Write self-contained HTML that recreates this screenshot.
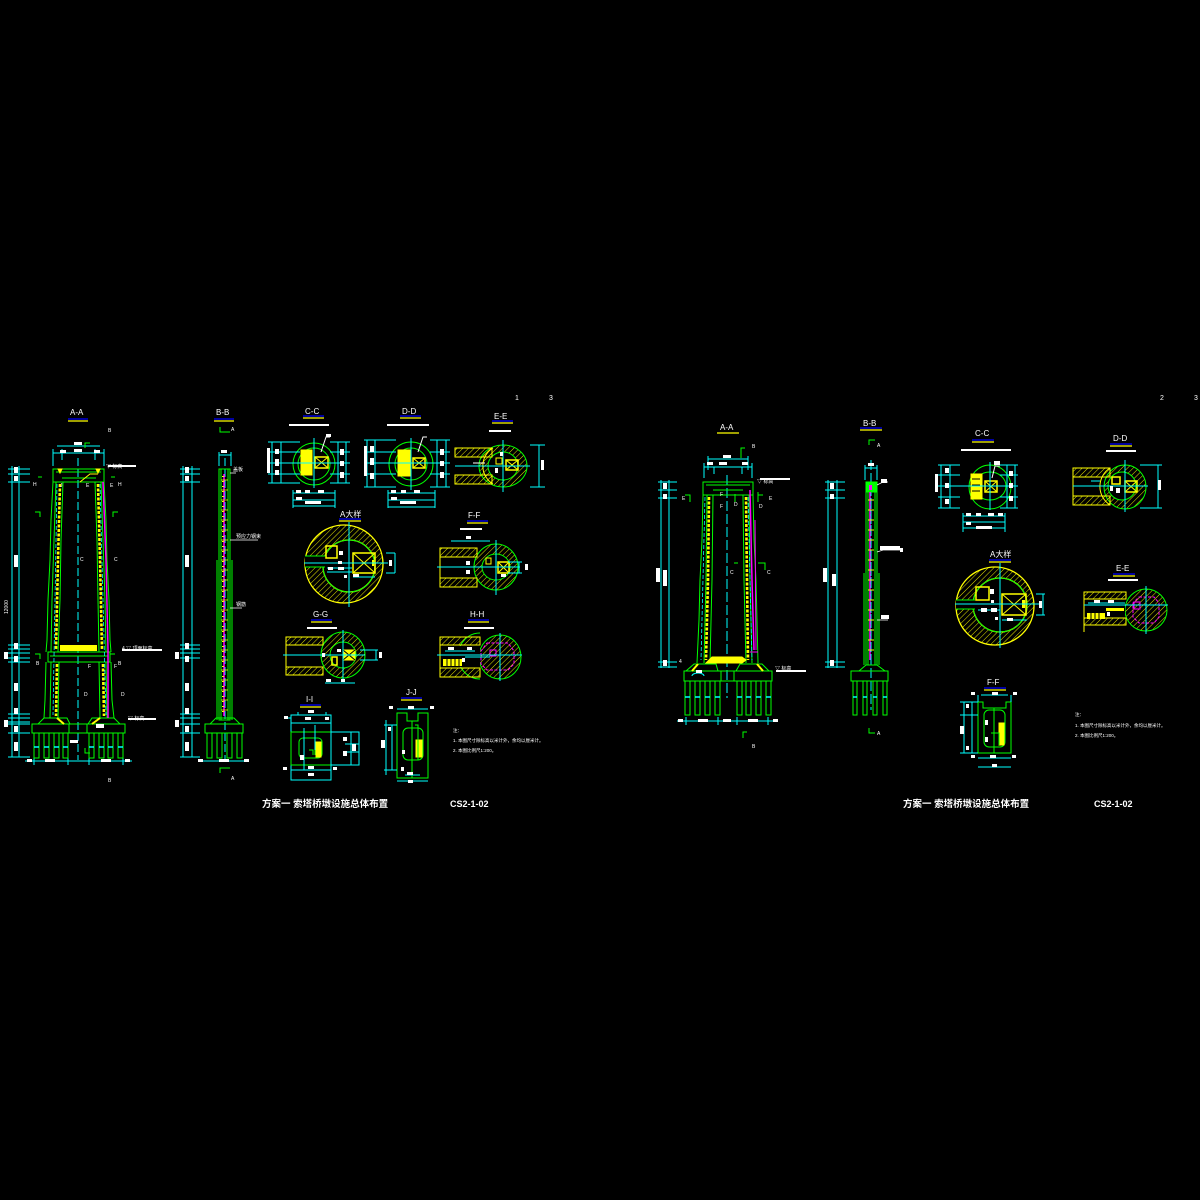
<!DOCTYPE html>
<html><head><meta charset="utf-8"><style>
html,body{margin:0;padding:0;background:#000;}
svg{display:block}
text{font-family:"Liberation Sans","Noto Sans CJK SC",sans-serif;fill:#fff}
</style></head><body>
<svg width="1200" height="1200" viewBox="0 0 1200 1200" xmlns="http://www.w3.org/2000/svg">
<defs>
<pattern id="hy" width="4" height="4" patternUnits="userSpaceOnUse" patternTransform="rotate(45)"><line x1="0" y1="0" x2="0" y2="4" stroke="#ff0" stroke-width="0.9"/></pattern>
<pattern id="hg" width="4" height="4" patternUnits="userSpaceOnUse" patternTransform="rotate(45)"><line x1="0" y1="0" x2="0" y2="4" stroke="#0f0" stroke-width="0.9"/></pattern>
<pattern id="hm" width="4" height="4" patternUnits="userSpaceOnUse" patternTransform="rotate(45)"><line x1="0" y1="0" x2="0" y2="4" stroke="#f0f" stroke-width="0.9"/></pattern>
</defs>
<rect width="1200" height="1200" fill="#000"/>

<!-- ================= LEFT SHEET ================= -->
<g font-size="8">
<text x="70" y="415">A-A</text>
<text x="216" y="415">B-B</text>
<text x="305" y="414">C-C</text>
<text x="402" y="414">D-D</text>
<text x="494" y="419">E-E</text>
<text x="340" y="517">A大样</text>
<text x="468" y="518">F-F</text>
<text x="313" y="617">G-G</text>
<text x="470" y="617">H-H</text>
<text x="306" y="702">I-I</text>
<text x="406" y="695">J-J</text>
</g>
<g stroke-width="1.2">
<line x1="68" y1="419" x2="88" y2="419" stroke="#00f"/><line x1="68" y1="421" x2="88" y2="421" stroke="#ff0"/>
<line x1="214" y1="419" x2="234" y2="419" stroke="#00f"/><line x1="214" y1="421" x2="234" y2="421" stroke="#ff0"/>
<line x1="303" y1="416" x2="324" y2="416" stroke="#00f"/><line x1="303" y1="418" x2="324" y2="418" stroke="#ff0"/>
<line x1="400" y1="416" x2="421" y2="416" stroke="#00f"/><line x1="400" y1="418" x2="421" y2="418" stroke="#ff0"/>
<line x1="492" y1="421" x2="513" y2="421" stroke="#00f"/><line x1="492" y1="423" x2="513" y2="423" stroke="#ff0"/>
<line x1="339" y1="519" x2="361" y2="519" stroke="#00f"/><line x1="339" y1="521" x2="361" y2="521" stroke="#ff0"/>
<line x1="467" y1="521" x2="488" y2="521" stroke="#00f"/><line x1="467" y1="523" x2="488" y2="523" stroke="#ff0"/>
<line x1="311" y1="620" x2="332" y2="620" stroke="#00f"/><line x1="311" y1="622" x2="332" y2="622" stroke="#ff0"/>
<line x1="468" y1="620" x2="489" y2="620" stroke="#00f"/><line x1="468" y1="622" x2="489" y2="622" stroke="#ff0"/>
<line x1="300" y1="705" x2="321" y2="705" stroke="#00f"/><line x1="300" y1="707" x2="321" y2="707" stroke="#ff0"/>
<line x1="401" y1="698" x2="422" y2="698" stroke="#00f"/><line x1="401" y1="700" x2="422" y2="700" stroke="#ff0"/>
</g>
<text x="515" y="400" font-size="7">1</text>
<text x="549" y="400" font-size="7">3</text>

<!-- A-A tower left sheet -->
<g fill="none" stroke-width="1">
<g stroke="#0ff">
<line x1="12" y1="466" x2="12" y2="757"/><line x1="19" y1="466" x2="19" y2="757"/>
<path d="M8 469H30M8 474H30M8 482H30M8 645H30M8 649H30M8 653H30M8 658H30M8 662H30M8 714H30M8 718H30M8 722H30M8 724H30M8 733H30M8 757H30"/>
<line x1="25" y1="761" x2="132" y2="761"/>
<path d="M34 757V765M68 757V765M89 757V765M123 757V765"/>
<line x1="57" y1="446" x2="100" y2="446"/><line x1="53" y1="453" x2="104" y2="453"/>
<path d="M53 449V466M104 449V466M62 449V460M95 449V460"/>
<line x1="78" y1="458" x2="78" y2="760" stroke-dasharray="8,3"/>
</g>
<g stroke="#0f0">
<rect x="53" y="469" width="51" height="13"/>
<path d="M56 472H101M62 478H96"/>
<path d="M53 482 L51 520 L50 560 L48 600 L47 640 L46 652"/>
<path d="M56 482 L54 540 L52 600 L51 652"/>
<path d="M63 482 L61 540 L60 600 L58 652"/>
<path d="M104 482 L106 520 L107 560 L109 600 L110 640 L111 652"/>
<path d="M101 482 L103 540 L105 600 L106 652"/>
<path d="M95 482 L97 540 L98 600 L99 652"/>
<rect x="48" y="652" width="62" height="10"/>
<path d="M50 656H108"/>
<path d="M46 662 L45 700 L44 718"/><path d="M51 662 L50 718"/><path d="M59 662 L58 718"/>
<path d="M111 662 L112 700 L114 718"/><path d="M106 662 L107 718"/><path d="M99 662 L100 718"/>
<path d="M38 724 L44 718 L67 718 L70 724Z"/>
<path d="M88 724 L92 718 L114 718 L120 724Z"/>
<rect x="32" y="724" width="93" height="9"/>
<path d="M69 724V733M87 724V733"/>
<rect x="34" y="733" width="5" height="25"/><rect x="44" y="733" width="5" height="25"/>
<rect x="54" y="733" width="5" height="25"/><rect x="63" y="733" width="5" height="25"/>
<rect x="89" y="733" width="5" height="25"/><rect x="99" y="733" width="5" height="25"/>
<rect x="108" y="733" width="5" height="25"/><rect x="118" y="733" width="5" height="25"/>
</g>
<g stroke="#0ff" stroke-width="1.5"><path d="M34 747H39M44 747H49M54 747H59M63 747H68M89 747H94M99 747H104M108 747H113M118 747H123"/></g>
<g stroke="#ff0" stroke-width="2.6" stroke-dasharray="3,1.5">
<path d="M60 484 L58 560 L56 650"/><path d="M57 664 L56 716"/>
<path d="M98 484 L100 560 L102 650"/><path d="M103 664 L104 716"/>
</g>
<g stroke="#0ff" stroke-width="0.8" stroke-dasharray="4,2"><path d="M57 484 L53 715"/><path d="M100 484 L106 715"/></g>
<path d="M103 482 L106 560 L108 650 L108 718" stroke="#f0f" stroke-width="1.5"/>
<rect x="60" y="645" width="37" height="6" fill="#ff0" stroke="none"/>
<path d="M58 469 L62 469 L60 473Z M96 469 L100 469 L98 473Z" fill="#ff0" stroke="#ff0"/>
<path d="M80 482 L90 474 L98 474" stroke="#ff0"/>
<path d="M57 718 L64 724 M100 718 L92 724" stroke="#ff0" stroke-width="2"/>
<g stroke="#0f0"><path d="M35 512H40V517M118 512H113V517M85 448V443H90M38 477H42M115 477H111M85 748V753H90M35 654H40V659M115 654H110V659"/></g>
</g>
<g font-size="5">
<text x="108" y="432">B</text><text x="108" y="782">B</text>
<text x="33" y="486">H</text><text x="118" y="486">H</text>
<text x="60" y="487">J</text><text x="86" y="487">E</text><text x="110" y="487">E</text>
<text x="80" y="561">C</text><text x="114" y="561">C</text>
<text x="36" y="665">B</text><text x="118" y="665">B</text>
<text x="88" y="668">F</text><text x="114" y="668">F</text>
<text x="84" y="696">D</text><text x="121" y="696">D</text>
<text x="106" y="468">▽ 标高</text><text x="122" y="650">4 ▽ 顶面标高</text><text x="128" y="720">▽ 标高</text>
<text x="8" y="614" transform="rotate(-90 8 614)">12000</text>
</g>
<g fill="#fff"><rect x="14" y="467" width="4" height="6"/><rect x="14" y="476" width="4" height="5"/><rect x="14" y="555" width="4" height="12"/><rect x="14" y="643" width="4" height="6"/><rect x="14" y="656" width="4" height="6"/><rect x="14" y="683" width="4" height="8"/><rect x="14" y="708" width="4" height="6"/><rect x="14" y="726" width="4" height="6"/><rect x="14" y="742" width="4" height="9"/><rect x="4" y="652" width="4" height="7"/><rect x="4" y="720" width="4" height="7"/>
<rect x="74" y="449" width="8" height="3"/><rect x="60" y="450" width="6" height="3"/><rect x="94" y="450" width="6" height="3"/><rect x="74" y="442" width="8" height="3"/>
<rect x="45" y="759" width="10" height="3"/><rect x="101" y="759" width="10" height="3"/><rect x="27" y="759" width="5" height="3"/><rect x="125" y="759" width="5" height="3"/>
<rect x="96" y="724" width="8" height="4"/><rect x="70" y="740" width="8" height="3"/>
<rect x="108" y="465" width="28" height="2"/><rect x="128" y="718" width="28" height="2"/><rect x="122" y="649" width="40" height="2"/>
</g>

<!-- B-B left sheet -->
<g fill="none" stroke-width="1">
<g stroke="#0ff">
<line x1="183" y1="466" x2="183" y2="757"/><line x1="192" y1="466" x2="192" y2="757"/>
<path d="M180 469H200M180 474H200M180 482H200M180 645H200M180 649H200M180 653H200M180 658H200M180 714H200M180 718H200M180 724H200M180 733H200M180 757H200"/>
<line x1="203" y1="761" x2="245" y2="761"/>
<path d="M219 455H231M219 452V466M231 452V466"/>
<line x1="225" y1="458" x2="225" y2="760" stroke-dasharray="8,3"/>
</g>
<g stroke="#0f0">
<rect x="219" y="469" width="11" height="251"/>
<path d="M221 469V720M228 469V720M217 560V720M232 560V720"/>
<path d="M210 724 L216 718 L234 718 L240 724Z"/>
<rect x="205" y="724" width="38" height="9"/>
<rect x="207" y="733" width="5" height="25"/><rect x="217" y="733" width="5" height="25"/><rect x="227" y="733" width="5" height="25"/><rect x="237" y="733" width="5" height="25"/>
<path d="M220 427V432H230"/><path d="M220 773V768H230"/>
</g>
<path d="M224 474V716" stroke="#f0f" stroke-width="1.5"/>
<path d="M223 476V716" stroke="#ff0" stroke-width="2" stroke-dasharray="1,4"/>
<path d="M221 480H228M221 490H228M221 500H228M221 510H228M221 520H228M221 530H228M221 540H228M221 550H228M221 560H228M221 570H228M221 580H228M221 590H228M221 600H228M221 610H228M221 620H228M221 630H228M221 640H228M221 650H228M221 660H228M221 670H228M221 680H228M221 690H228M221 700H228M221 710H228" stroke="#ff0" stroke-width="0.8"/>
<path d="M230 473H236M230 540H238H258M230 608H242" stroke="#fff" stroke-width="0.7"/>
</g>
<g font-size="5"><text x="231" y="431">A</text><text x="231" y="780">A</text><text x="233" y="471">盖板</text><text x="236" y="538">预应力钢束</text><text x="236" y="606">钢筋</text></g>
<g fill="#fff"><rect x="185" y="467" width="4" height="6"/><rect x="185" y="476" width="4" height="5"/><rect x="185" y="555" width="4" height="12"/><rect x="185" y="643" width="4" height="6"/><rect x="185" y="656" width="4" height="6"/><rect x="185" y="683" width="4" height="8"/><rect x="185" y="708" width="4" height="6"/><rect x="185" y="726" width="4" height="6"/><rect x="185" y="742" width="4" height="9"/><rect x="175" y="652" width="4" height="7"/><rect x="175" y="720" width="4" height="7"/><rect x="221" y="450" width="6" height="3"/><rect x="219" y="759" width="10" height="3"/><rect x="198" y="759" width="5" height="3"/><rect x="244" y="759" width="5" height="3"/></g>

<!-- C-C left -->
<g fill="none" stroke-width="1">
<ellipse cx="314" cy="464" rx="21" ry="21" stroke="#0f0"/>
<ellipse cx="314" cy="464" rx="16" ry="16" stroke="#0f0"/>
<rect x="301" y="450" width="11" height="25" fill="#ff0" stroke="#ff0"/>
<rect x="315" y="457" width="13" height="11" stroke="#ff0" stroke-width="1.5"/>
<path d="M315 457L328 468M328 457L315 468" stroke="#ff0"/>
<path d="M290 463H340M314 438V488" stroke="#0ff"/>
<path d="M272 442V483M281 442V483M338 442V483M346 442V483M268 442H300M268 452H300M268 463H300M268 474H300M268 483H300M330 442H350M330 452H350M330 463H350M330 474H350M330 483H350" stroke="#0ff"/>
<path d="M293 490V508M335 490V508M293 493H335M293 500H335M293 506H335" stroke="#0ff"/>
<path d="M321 452L326 437H330" stroke="#fff"/>
</g>
<g fill="#fff"><rect x="275" y="449" width="4" height="5"/><rect x="275" y="459" width="4" height="7"/><rect x="275" y="470" width="4" height="5"/><rect x="340" y="449" width="4" height="6"/><rect x="340" y="461" width="4" height="5"/><rect x="340" y="472" width="4" height="6"/><rect x="296" y="490" width="5" height="3"/><rect x="305" y="490" width="5" height="3"/><rect x="318" y="490" width="6" height="3"/><rect x="296" y="497" width="6" height="3"/><rect x="305" y="501" width="16" height="3"/><rect x="289" y="424" width="40" height="2"/><rect x="326" y="434" width="5" height="3"/><rect x="267" y="448" width="3" height="25"/></g>

<!-- D-D left -->
<g fill="none" stroke-width="1">
<ellipse cx="411" cy="464" rx="22" ry="22" stroke="#0f0"/>
<ellipse cx="411" cy="464" rx="16" ry="16" stroke="#0f0"/>
<rect x="398" y="450" width="12" height="26" fill="#ff0" stroke="#ff0"/>
<rect x="413" y="458" width="12" height="10" stroke="#ff0" stroke-width="1.5"/>
<path d="M413 458L425 468M425 458L413 468" stroke="#ff0"/>
<path d="M385 463H440M411 438V490" stroke="#0ff"/>
<path d="M367 440V487M375 440V487M437 440V487M446 440V487M364 440H396M364 452H396M364 463H396M364 474H396M364 487H396M430 440H450M430 452H450M430 463H450M430 474H450M430 487H450" stroke="#0ff"/>
<path d="M388 490V508M435 490V508M388 493H435M388 500H435M388 507H435" stroke="#0ff"/>
<path d="M418 452L423 437H427" stroke="#fff"/>
</g>
<g fill="#fff"><rect x="370" y="446" width="4" height="6"/><rect x="370" y="458" width="4" height="7"/><rect x="370" y="473" width="4" height="6"/><rect x="440" y="449" width="4" height="6"/><rect x="440" y="461" width="4" height="5"/><rect x="440" y="472" width="4" height="6"/><rect x="391" y="490" width="5" height="3"/><rect x="401" y="490" width="5" height="3"/><rect x="414" y="490" width="6" height="3"/><rect x="391" y="497" width="6" height="3"/><rect x="400" y="501" width="16" height="3"/><rect x="387" y="424" width="42" height="2"/><rect x="364" y="446" width="3" height="30"/></g>

<!-- E-E left -->
<g stroke-width="1">
<path d="M503 445a24 21 0 1 1 0 42a24 21 0 1 1 0-42ZM503 452a15 14 0 1 0 0 28a15 14 0 1 0 0-28Z" fill="url(#hy)" fill-rule="evenodd" stroke="#0f0"/>
<rect x="455" y="448" width="37" height="9" fill="url(#hy)" stroke="#ff0"/>
<rect x="455" y="475" width="37" height="9" fill="url(#hy)" stroke="#ff0"/>
<path d="M493 448 A21 21 0 0 0 493 484" fill="none" stroke="#ff0"/>
<rect x="496" y="458" width="6" height="6" fill="none" stroke="#ff0"/>
<rect x="506" y="460" width="12" height="10" fill="none" stroke="#ff0" stroke-width="1.5"/>
<path d="M506 460L518 470M518 460L506 470" stroke="#ff0"/>
<path d="M455 466H530M503 440V492M530 445H545M530 487H545M539 445V487" stroke="#0ff" fill="none"/>
<path d="M473 463H485" stroke="#fff"/>
</g>
<g fill="#fff"><rect x="489" y="430" width="22" height="2"/><rect x="541" y="460" width="3" height="10"/><rect x="500" y="452" width="3" height="4"/><rect x="495" y="468" width="3" height="5"/></g>

<!-- A大样 left -->
<g stroke-width="1">
<path d="M344 525a39 39 0 1 1 0 78a39 39 0 1 1 0-78ZM349 540a26 26 0 1 0 0 52a26 26 0 1 0 0-52Z" fill="url(#hy)" fill-rule="evenodd" stroke="#ff0" stroke-width="1.3"/>
<ellipse cx="349" cy="566" rx="26" ry="26" fill="none" stroke="#0f0"/>
<rect x="305" y="556" width="22" height="11" fill="#000" stroke="none"/>
<path d="M305 556H325M305 567H325" stroke="#0f0"/>
<rect x="326" y="546" width="11" height="12" fill="none" stroke="#ff0" stroke-width="1.5"/>
<rect x="353" y="553" width="22" height="20" fill="none" stroke="#ff0" stroke-width="1.5"/>
<path d="M353 553L375 573M375 553L353 573" stroke="#ff0"/>
<rect x="372" y="560" width="2" height="6" fill="#ff0"/>
<path d="M304 563H388M349 522V607M386 553H395M386 573H395M395 553V573M327 568H352M327 572H352M353 577H375" stroke="#0ff" fill="none"/>
</g>
<g fill="#fff"><rect x="339" y="551" width="4" height="4"/><rect x="338" y="561" width="4" height="3"/><rect x="328" y="567" width="5" height="3"/><rect x="338" y="567" width="6" height="3"/><rect x="353" y="574" width="6" height="3"/><rect x="344" y="575" width="3" height="3"/><rect x="389" y="560" width="3" height="6"/></g>

<!-- F-F left -->
<g stroke-width="1">
<path d="M496 544a22 23 0 1 1 0 46a22 23 0 1 1 0-46ZM496 554a14 13 0 1 0 0 26a14 13 0 1 0 0-26Z" fill="url(#hy)" fill-rule="evenodd" stroke="#0f0"/>
<rect x="440" y="548" width="37" height="9" fill="url(#hy)" stroke="#ff0"/>
<rect x="440" y="578" width="37" height="9" fill="url(#hy)" stroke="#ff0"/>
<path d="M440 548V587" stroke="#ff0"/>
<rect x="486" y="558" width="5" height="6" fill="none" stroke="#ff0"/>
<rect x="498" y="562" width="11" height="11" fill="none" stroke="#ff0" stroke-width="1.5"/>
<path d="M498 562L509 573M509 562L498 573" stroke="#ff0"/>
<path d="M437 567H520M496 540V595M508 562H522M508 573H522M519 562V573M451 541H490" stroke="#0ff" fill="none"/>
</g>
<g fill="#fff"><rect x="460" y="528" width="22" height="2"/><rect x="466" y="536" width="5" height="3"/><rect x="466" y="561" width="4" height="4"/><rect x="466" y="570" width="4" height="4"/><rect x="525" y="564" width="3" height="6"/><rect x="501" y="574" width="5" height="3"/></g>

<!-- G-G left -->
<g stroke-width="1">
<path d="M343 632a22 23 0 1 1 0 46a22 23 0 1 1 0-46ZM343 642a13 13 0 1 0 0 26a13 13 0 1 0 0-26Z" fill="url(#hy)" fill-rule="evenodd" stroke="#0f0"/>
<rect x="286" y="637" width="37" height="8" fill="url(#hy)" stroke="#ff0"/>
<rect x="286" y="667" width="37" height="8" fill="url(#hy)" stroke="#ff0"/>
<path d="M286 637V675" stroke="#ff0"/>
<rect x="343" y="650" width="12" height="10" fill="#ff0" stroke="#ff0"/>
<path d="M343 650L355 660M355 650L343 660" stroke="#000"/>
<rect x="332" y="657" width="5" height="8" fill="none" stroke="#ff0" stroke-width="1.5"/>
<path d="M283 655H365M343 630V682M360 650H378M360 660H378M376 650V660M325 683H355" stroke="#0ff" fill="none"/>
</g>
<g fill="#fff"><rect x="307" y="627" width="30" height="2"/><rect x="322" y="653" width="3" height="4"/><rect x="337" y="649" width="4" height="3"/><rect x="326" y="679" width="5" height="3"/><rect x="341" y="679" width="4" height="3"/><rect x="379" y="652" width="3" height="6"/></g>

<!-- H-H left -->
<g stroke-width="1">
<ellipse cx="500" cy="657" rx="21" ry="22" fill="url(#hy)" stroke="#0f0"/>
<path d="M480 633 A21 22 0 0 0 480 679" fill="none" stroke="#0f0"/>
<rect x="440" y="637" width="40" height="8" fill="url(#hy)" stroke="#ff0"/>
<rect x="440" y="668" width="40" height="9" fill="url(#hy)" stroke="#ff0"/>
<rect x="440" y="646" width="40" height="21" fill="#000" stroke="none"/>
<path d="M440 637V677" stroke="#ff0"/>
<rect x="443" y="659" width="19" height="7" fill="#ff0"/>
<path d="M447 659V666M451 659V666M455 659V666M459 659V666" stroke="#000"/>
<path d="M487 643L508 643L514 651L514 664L508 670L487 670L481 664L481 651Z" fill="none" stroke="#f0f" stroke-dasharray="3,1.5"/>
<rect x="490" y="650" width="6" height="6" fill="none" stroke="#f0f"/>
<path d="M437 655H522M500 633V681M445 651H475M465 657H490" stroke="#0ff" fill="none"/>
</g>
<g fill="#fff"><rect x="464" y="627" width="30" height="2"/><rect x="448" y="647" width="6" height="3"/><rect x="467" y="647" width="5" height="3"/><rect x="462" y="658" width="3" height="4"/></g>

<!-- I-I -->
<g fill="none" stroke-width="1">
<rect x="291" y="715" width="40" height="65" stroke="#0ff"/>
<path d="M291 723H331M291 770H331M298 715V712M326 715V712M286 718H291" stroke="#0ff"/>
<rect x="291" y="732" width="40" height="33" stroke="#0f0"/>
<rect x="331" y="732" width="28" height="33" stroke="#0ff"/>
<path d="M351 732V765M359 732V765M345 744H359M345 752H359" stroke="#0ff"/>
<rect x="299" y="738" width="23" height="20" rx="4" stroke="#0f0"/>
<path d="M304 742V755M315 742V755M309 750H313V755" stroke="#0f0"/>
<rect x="316" y="742" width="5" height="15" fill="#ff0" stroke="#ff0"/>
<path d="M304 728V770M315 725V750" stroke="#0ff"/>
</g>
<g fill="#fff"><rect x="308" y="710" width="6" height="3"/><rect x="305" y="717" width="6" height="3"/><rect x="325" y="717" width="4" height="3"/><rect x="284" y="716" width="4" height="3"/><rect x="343" y="737" width="4" height="4"/><rect x="343" y="751" width="4" height="5"/><rect x="352" y="744" width="4" height="7"/><rect x="300" y="755" width="4" height="5"/><rect x="308" y="766" width="6" height="3"/><rect x="308" y="773" width="6" height="3"/><rect x="283" y="767" width="4" height="3"/><rect x="333" y="767" width="4" height="3"/></g>

<!-- J-J -->
<g fill="none" stroke-width="1">
<path d="M397 713H407V721H418V713H428V778H397Z" stroke="#0f0"/>
<rect x="403" y="728" width="20" height="32" rx="5" stroke="#0f0"/>
<rect x="416" y="740" width="6" height="17" fill="#ff0" stroke="#ff0"/>
<path d="M412 721V778M415 725H418V760" stroke="#0f0"/>
<path d="M397 709H428M397 781H428M386 720V775M392 725V770M384 725H397M384 770H397M405 775H420" stroke="#0ff"/>
</g>
<g fill="#fff"><rect x="408" y="706" width="6" height="3"/><rect x="389" y="706" width="4" height="3"/><rect x="430" y="706" width="4" height="3"/><rect x="388" y="727" width="3" height="4"/><rect x="381" y="740" width="4" height="8"/><rect x="402" y="750" width="3" height="4"/><rect x="401" y="767" width="3" height="4"/><rect x="407" y="772" width="6" height="3"/><rect x="408" y="780" width="5" height="3"/></g>

<!-- Notes left -->
<g font-size="4.5">
<text x="453" y="732">注：</text>
<text x="453" y="742">1. 本图尺寸除标高以米计外，余均以厘米计。</text>
<text x="453" y="752">2. 本图比例尺1:200。</text>
</g>
<text x="262" y="807" font-size="9.5" font-weight="bold">方案一  索塔桥墩设施总体布置</text>
<text x="450" y="807" font-size="9" font-weight="bold">CS2-1-02</text>

<!-- ================= RIGHT SHEET ================= -->
<g font-size="8">
<text x="720" y="430">A-A</text>
<text x="863" y="426">B-B</text>
<text x="975" y="436">C-C</text>
<text x="1113" y="441">D-D</text>
<text x="990" y="557">A大样</text>
<text x="1116" y="571">E-E</text>
<text x="987" y="685">F-F</text>
</g>
<g stroke-width="1.2">
<line x1="717" y1="433" x2="739" y2="433" stroke="#ff0"/>
<line x1="860" y1="428" x2="882" y2="428" stroke="#00f"/><line x1="860" y1="430" x2="882" y2="430" stroke="#ff0"/>
<line x1="972" y1="440" x2="994" y2="440" stroke="#00f"/><line x1="972" y1="442" x2="994" y2="442" stroke="#ff0"/>
<line x1="1110" y1="444" x2="1132" y2="444" stroke="#00f"/><line x1="1110" y1="446" x2="1132" y2="446" stroke="#ff0"/>
<line x1="989" y1="560" x2="1011" y2="560" stroke="#00f"/><line x1="989" y1="562" x2="1011" y2="562" stroke="#ff0"/>
<line x1="1113" y1="574" x2="1135" y2="574" stroke="#00f"/><line x1="1113" y1="576" x2="1135" y2="576" stroke="#ff0"/>
<line x1="984" y1="688" x2="1006" y2="688" stroke="#00f"/><line x1="984" y1="690" x2="1006" y2="690" stroke="#ff0"/>
</g>
<text x="1160" y="400" font-size="7">2</text>
<text x="1194" y="400" font-size="7">3</text>

<!-- A-A right tower -->
<g fill="none" stroke-width="1">
<g stroke="#0ff">
<line x1="661" y1="480" x2="661" y2="668"/><line x1="669" y1="480" x2="669" y2="668"/>
<path d="M658 482H677M658 490H677M658 498H677M658 662H677M658 667H677"/>
<line x1="677" y1="721" x2="774" y2="721"/>
<path d="M686 717V725M718 717V725M737 717V725M768 717V725"/>
<line x1="708" y1="459" x2="748" y2="459"/><line x1="704" y1="467" x2="752" y2="467"/>
<path d="M704 463V478M752 463V478M708 456V470M748 456V470M714 467V474M742 467V474"/>
<line x1="727" y1="475" x2="727" y2="698" stroke-dasharray="10,3"/>
</g>
<g stroke="#0f0">
<rect x="703" y="482" width="50" height="13"/>
<path d="M706 485H750M713 490H743"/>
<path d="M703 495 L702 540 L700 580 L699 620 L697 663"/>
<path d="M707 495 L706 580 L704 663"/>
<path d="M713 495 L712 580 L710 663"/>
<path d="M753 495 L754 540 L756 580 L757 620 L758 663"/>
<path d="M749 495 L750 580 L752 663"/>
<path d="M743 495 L744 580 L746 663"/>
<path d="M686 671 L694 664 L716 664 L718 671Z"/>
<path d="M736 671 L740 664 L762 664 L769 671Z"/>
<rect x="684" y="671" width="88" height="10"/>
<path d="M721 671V681M734 671V681"/>
<rect x="685" y="681" width="5" height="34"/><rect x="695" y="681" width="5" height="34"/><rect x="705" y="681" width="5" height="34"/><rect x="715" y="681" width="5" height="34"/>
<rect x="737" y="681" width="5" height="34"/><rect x="746" y="681" width="5" height="34"/><rect x="756" y="681" width="5" height="34"/><rect x="766" y="681" width="5" height="34"/>
<path d="M741 458V448H745M743 738V732H747M685 495H690V502M763 495H758V502M734 563H738M758 563H765V570M735 494V502M758 492V500"/>
</g>
<g stroke="#0ff" stroke-width="1.5"><path d="M685 697H690M695 697H700M705 697H710M715 697H720M737 697H742M746 697H751M756 697H761M766 697H771"/></g>
<g stroke="#ff0" stroke-width="2.6" stroke-dasharray="3,1.5"><path d="M709 497 L708 580 L706 660"/><path d="M746 497 L747 580 L748 660"/></g>
<path d="M750 490 L752 580 L754 650" stroke="#f0f" stroke-width="1.5"/>
<path d="M755 520 L756 650 M750 652H758" stroke="#f0f" stroke-width="1"/>
<path d="M706 663 L742 663 L746 660 L742 657 L712 657 Z" fill="#ff0" stroke="#ff0"/>
<path d="M692 671 L698 664 M763 671 L757 664" stroke="#ff0" stroke-width="2"/>
<g stroke="#0ff" stroke-width="0.8" stroke-dasharray="4,2"><path d="M705 497 L701 660"/><path d="M748 497 L752 660"/></g>
<path d="M692 676 A6 3 0 0 1 704 676" stroke="#0ff"/>
</g>
<g font-size="5">
<text x="752" y="448">B</text><text x="752" y="748">B</text>
<text x="682" y="500">E</text><text x="769" y="500">E</text>
<text x="720" y="496">F</text><text x="720" y="508">F</text><text x="734" y="506">D</text><text x="759" y="508">D</text>
<text x="730" y="574">C</text><text x="767" y="574">C</text>
<text x="679" y="663">4</text>
<text x="757" y="483">▽ 标高</text><text x="775" y="670">▽ 标高</text>
</g>
<g fill="#fff"><rect x="663" y="483" width="4" height="6"/><rect x="663" y="494" width="4" height="5"/><rect x="663" y="570" width="4" height="16"/><rect x="656" y="568" width="4" height="14"/><rect x="663" y="660" width="4" height="6"/><rect x="723" y="455" width="8" height="3"/><rect x="707" y="462" width="6" height="3"/><rect x="742" y="462" width="6" height="3"/><rect x="719" y="462" width="8" height="3"/><rect x="698" y="719" width="10" height="3"/><rect x="748" y="719" width="10" height="3"/><rect x="678" y="719" width="5" height="3"/><rect x="773" y="719" width="5" height="3"/><rect x="723" y="719" width="8" height="3"/><rect x="696" y="670" width="6" height="3"/><rect x="760" y="478" width="30" height="2"/><rect x="776" y="670" width="30" height="2"/></g>

<!-- B-B right -->
<g fill="none" stroke-width="1">
<g stroke="#0ff">
<line x1="828" y1="480" x2="828" y2="668"/><line x1="837" y1="480" x2="837" y2="668"/>
<path d="M825 482H845M825 490H845M825 498H845M825 662H845M825 667H845"/>
<path d="M865 468H877M865 465V480M877 465V480"/>
<line x1="871" y1="460" x2="871" y2="710" stroke-dasharray="10,3"/>
</g>
<g stroke="#0f0">
<rect x="866" y="482" width="11" height="183"/>
<path d="M868 482V665M875 482V665M864 573V665M879 573V665"/>
<rect x="866" y="482" width="11" height="10" fill="#0f0"/>
<path d="M859 671 L866 665 L877 665 L885 671Z"/>
<rect x="851" y="671" width="37" height="10"/>
<rect x="853" y="681" width="4" height="34"/><rect x="863" y="681" width="4" height="34"/><rect x="873" y="681" width="4" height="34"/><rect x="883" y="681" width="4" height="34"/>
<path d="M869 445V440H875M869 728V733H875"/>
</g>
<path d="M870 492V660" stroke="#f0f" stroke-width="1.5"/>
<path d="M871 494V660" stroke="#0ff" stroke-width="1" stroke-dasharray="2,2"/>
<path d="M868 500H874M868 510H874M868 520H874M868 530H874M868 540H874M868 550H874M868 560H874M868 570H874M868 580H874M868 590H874M868 600H874M868 610H874M868 620H874M868 630H874M868 640H874M868 650H874" stroke="#ff0" stroke-width="0.9"/>
<rect x="869" y="485" width="3" height="5" fill="#f0f"/>
<path d="M877 485L883 482H888M877 552L883 550H900M877 620L883 620H888" stroke="#fff" stroke-width="0.7"/>
<path d="M853 697H857M863 697H867M873 697H877M883 697H887" stroke="#0ff" stroke-width="1.5"/>
</g>
<g font-size="5"><text x="877" y="447">A</text><text x="877" y="735">A</text></g>
<g fill="#fff"><rect x="830" y="483" width="4" height="6"/><rect x="830" y="494" width="4" height="5"/><rect x="832" y="574" width="4" height="12"/><rect x="823" y="568" width="4" height="14"/><rect x="830" y="660" width="4" height="6"/><rect x="868" y="463" width="6" height="3"/><rect x="881" y="479" width="6" height="4"/><rect x="880" y="546" width="20" height="4"/><rect x="881" y="615" width="8" height="4"/></g>

<!-- C-C right -->
<g fill="none" stroke-width="1">
<ellipse cx="990" cy="487" rx="21" ry="22" stroke="#0f0"/>
<ellipse cx="990" cy="486" rx="16" ry="14" stroke="#0f0"/>
<rect x="971" y="474" width="11" height="25" fill="#ff0" stroke="#ff0"/>
<path d="M972 479H980M972 485H980M972 491H980" stroke="#000"/>
<rect x="985" y="481" width="12" height="11" stroke="#ff0" stroke-width="1.5"/>
<path d="M985 481L997 492M997 481L985 492" stroke="#ff0"/>
<path d="M959 486H1018M990 462V510" stroke="#0ff"/>
<path d="M941 465V508M950 465V508M1007 465V508M1015 465V508M938 465H960M938 475H960M938 486H960M938 497H960M938 508H960M1000 465H1018M1000 475H1018M1000 486H1018M1000 497H1018M1000 508H1018" stroke="#0ff"/>
<path d="M963 513V532M1005 513V532M963 516H1005M963 522H1005M963 528H1005" stroke="#0ff"/>
<path d="M992 478L995 466H1000" stroke="#fff"/>
</g>
<g fill="#fff"><rect x="945" y="468" width="4" height="5"/><rect x="945" y="483" width="4" height="5"/><rect x="945" y="499" width="4" height="5"/><rect x="1009" y="471" width="4" height="5"/><rect x="1009" y="483" width="4" height="5"/><rect x="1009" y="496" width="4" height="5"/><rect x="935" y="474" width="3" height="18"/><rect x="966" y="513" width="5" height="3"/><rect x="976" y="513" width="5" height="3"/><rect x="988" y="513" width="6" height="3"/><rect x="998" y="513" width="5" height="3"/><rect x="966" y="522" width="5" height="3"/><rect x="976" y="526" width="16" height="3"/><rect x="961" y="449" width="50" height="2"/><rect x="994" y="461" width="6" height="4"/></g>

<!-- D-D right -->
<g stroke-width="1">
<path d="M1125 465a21 22 0 1 1 0 44a21 22 0 1 1 0-44ZM1122 472a14 14 0 1 0 0 28a14 14 0 1 0 0-28Z" fill="url(#hy)" fill-rule="evenodd" stroke="#0f0"/>
<rect x="1073" y="468" width="37" height="9" fill="url(#hy)" stroke="#ff0"/>
<rect x="1073" y="496" width="37" height="9" fill="url(#hy)" stroke="#ff0"/>
<path d="M1073 468V505M1110 468A22 22 0 0 0 1110 505" stroke="#ff0" fill="none"/>
<rect x="1112" y="477" width="8" height="7" fill="none" stroke="#ff0" stroke-width="1.5"/>
<rect x="1125" y="481" width="12" height="11" fill="none" stroke="#ff0" stroke-width="1.5"/>
<path d="M1125 481L1137 492M1137 481L1125 492" stroke="#ff0"/>
<path d="M1073 486H1148M1125 460V512M1140 465H1162M1140 508H1162M1158 465V508M1091 481H1100" stroke="#0ff" fill="none"/>
</g>
<g fill="#fff"><rect x="1106" y="450" width="30" height="2"/><rect x="1158" y="480" width="3" height="10"/><rect x="1110" y="486" width="3" height="5"/><rect x="1116" y="488" width="4" height="5"/></g>

<!-- A大样 right -->
<g stroke-width="1">
<path d="M995 567a39 39 0 1 1 0 78a39 39 0 1 1 0-78ZM1000 578a27 27 0 1 0 0 54a27 27 0 1 0 0-54Z" fill="url(#hy)" fill-rule="evenodd" stroke="#ff0" stroke-width="1.3"/>
<ellipse cx="1000" cy="605" rx="27" ry="27" fill="none" stroke="#0f0"/>
<rect x="956" y="600" width="20" height="9" fill="#000"/>
<path d="M956 600H975M956 609H975" stroke="#0f0"/>
<rect x="976" y="587" width="13" height="13" fill="none" stroke="#ff0" stroke-width="1.5"/>
<rect x="1002" y="594" width="24" height="21" fill="none" stroke="#ff0" stroke-width="1.5"/>
<path d="M1002 594L1026 615M1026 594L1002 615" stroke="#ff0"/>
<rect x="1022" y="600" width="3" height="8" fill="#ff0"/>
<path d="M955 604H1040M1000 563V648M1036 594H1045M1036 615H1045M1043 594V615M978 610H1000M1002 620H1027" stroke="#0ff" fill="none"/>
</g>
<g fill="#fff"><rect x="990" y="589" width="4" height="5"/><rect x="991" y="600" width="3" height="3"/><rect x="981" y="608" width="6" height="4"/><rect x="991" y="608" width="6" height="4"/><rect x="1007" y="618" width="6" height="3"/><rect x="995" y="617" width="3" height="3"/><rect x="1039" y="601" width="3" height="7"/></g>

<!-- E-E right -->
<g stroke-width="1">
<ellipse cx="1146" cy="610" rx="21" ry="21" fill="url(#hy)" stroke="#0f0"/>
<rect x="1084" y="592" width="42" height="7" fill="url(#hy)" stroke="#ff0"/>
<rect x="1084" y="618" width="42" height="7" fill="url(#hy)" stroke="#ff0"/>
<rect x="1084" y="600" width="41" height="17" fill="#000"/>
<path d="M1084 592V632" stroke="#ff0"/>
<rect x="1087" y="613" width="18" height="6" fill="#ff0"/>
<path d="M1091 613V619M1095 613V619M1099 613V619" stroke="#000"/>
<rect x="1106" y="608" width="18" height="3" fill="#ff0"/>
<path d="M1139 597L1154 597L1159 603L1159 617L1154 623L1139 623L1133 617L1133 603Z" fill="none" stroke="#f0f" stroke-dasharray="3,1.5"/>
<rect x="1134" y="602" width="6" height="7" fill="none" stroke="#f0f"/>
<path d="M1084 605H1168M1146 586V634M1088 603H1125" stroke="#0ff" fill="none"/>
</g>
<g fill="#fff"><rect x="1108" y="579" width="30" height="2"/><rect x="1094" y="600" width="6" height="3"/><rect x="1108" y="600" width="6" height="3"/><rect x="1107" y="612" width="3" height="4"/></g>

<!-- F-F right -->
<g fill="none" stroke-width="1">
<path d="M978 702H983V708H1006V702H1011V753H978Z" stroke="#0f0"/>
<rect x="984" y="710" width="21" height="37" rx="5" stroke="#0f0"/>
<rect x="999" y="723" width="5" height="22" fill="#ff0" stroke="#ff0"/>
<path d="M994 708V753M991 710H999M991 733H999V745" stroke="#0f0"/>
<path d="M981 695H1008M978 695V702M1011 695V702M978 758H1011M978 767H1011M964 702V753M972 702V753M960 702H978M960 715H978M960 753H978" stroke="#0ff"/>
</g>
<g fill="#fff"><rect x="992" y="692" width="6" height="3"/><rect x="971" y="692" width="4" height="3"/><rect x="1013" y="692" width="4" height="3"/><rect x="966" y="704" width="3" height="4"/><rect x="960" y="726" width="4" height="8"/><rect x="985" y="720" width="3" height="5"/><rect x="985" y="737" width="3" height="5"/><rect x="966" y="746" width="3" height="4"/><rect x="990" y="755" width="6" height="3"/><rect x="992" y="764" width="5" height="3"/><rect x="971" y="755" width="4" height="3"/><rect x="1012" y="755" width="4" height="3"/></g>

<!-- Notes right -->
<g font-size="4.5">
<text x="1075" y="716">注：</text>
<text x="1075" y="727">1. 本图尺寸除标高以米计外，余均以厘米计。</text>
<text x="1075" y="737">2. 本图比例尺1:200。</text>
</g>
<text x="903" y="807" font-size="9.5" font-weight="bold">方案一  索塔桥墩设施总体布置</text>
<text x="1094" y="807" font-size="9" font-weight="bold">CS2-1-02</text>
<rect x="900" y="548" width="3" height="4" fill="#fff"/>
</svg>
</body></html>
